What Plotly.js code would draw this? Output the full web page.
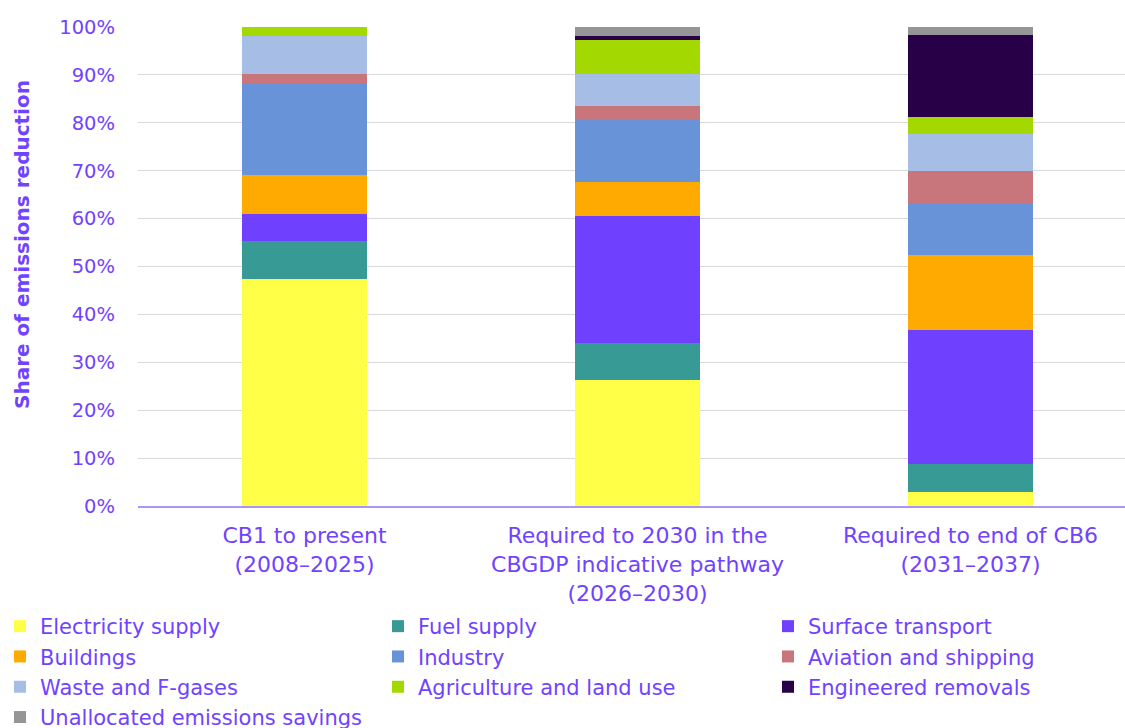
<!DOCTYPE html>
<html>
<head>
<meta charset="utf-8">
<script src="https://cdn.plot.ly/plotly-3.0.1.min.js"></script>
<style>html,body{margin:0;padding:0;background:#fff;}#chart{width:1125px;height:728px;}</style>
</head>
<body>
<div id="chart"></div>
<script>
var categories = ["CB1 to present<br>(2008–2025)", "Required to 2030 in the<br>CBGDP indicative pathway<br>(2026–2030)", "Required to end of CB6<br>(2031–2037)"];
var seriesNames = ["Electricity supply", "Fuel supply", "Surface transport", "Buildings", "Industry", "Aviation and shipping", "Waste and F-gases", "Agriculture and land use", "Engineered removals", "Unallocated emissions savings"];
var electricity = [47.4, 26.3, 3.0];
var fuel = [7.9, 7.7, 5.7];
var surface = [5.7, 26.6, 28.1];
var buildings = [8.0, 7.0, 15.6];
var industry = [19.2, 13.1, 10.9];
var aviation = [2.0, 2.9, 6.7];
var waste = [7.9, 6.5, 7.7];
var agriculture = [1.9, 7.2, 3.5];
var engineered = [0, 0.9, 17.2];
var unallocated = [0, 1.8, 1.6];
var yTickVals = [0, 10, 20, 30, 40, 50, 60, 70, 80, 90, 100];
var yTickText = ["0%", "10%", "20%", "30%", "40%", "50%", "60%", "70%", "80%", "90%", "100%"];
var yTitle = "Share of emissions reduction";
var colors = ["#FFFF47", "#389A94", "#7040FF", "#FFAA00", "#6893D8", "#C8767C", "#A6BEE6", "#A3D900", "#280048", "#969696"];
var values = [electricity, fuel, surface, buildings, industry, aviation, waste, agriculture, engineered, unallocated];
var legendIds = ["legend", "legend2", "legend3"];
var textColor = "#7043FF";
var font = "'DejaVu Sans', sans-serif";

var traces = seriesNames.map(function(name, i){
  return {
    type: "bar",
    name: name,
    x: [0, 1, 2],
    y: values[i],
    legend: legendIds[i % 3],
    marker: {color: colors[i], line: {width: 0}},
    hovertemplate: "%{y:.1f}%<extra>" + name + "</extra>"
  };
});

function legendCfg(xpx) {
  return {
    orientation: "v",
    xref: "container", yref: "container",
    x: xpx / 1125, y: 1 - 606 / 728, xanchor: "left", yanchor: "top",
    traceorder: "normal",
    itemwidth: 30,
    bgcolor: "rgba(0,0,0,0)",
    font: {size: 21, color: textColor, family: font},
    tracegroupgap: 0
  };
}

var layout = {
  width: 1125, height: 728,
  margin: {l: 138, r: 0, t: 27, b: 222, autoexpand: false},
  paper_bgcolor: "#fff", plot_bgcolor: "#fff",
  barmode: "stack",
  bargap: 0.625,
  font: {family: font, color: textColor, size: 19},
  xaxis: {
    range: [-0.5, 2.464],
    tickmode: "array", tickvals: [0, 1, 2], ticktext: categories,
    tickfont: {size: 22, color: textColor},
    showgrid: false, zeroline: false,
    showline: true, linecolor: "#A896F8", linewidth: 2,
    ticks: "", ticklabelstandoff: 9
  },
  yaxis: {
    range: [0, 100],
    tickvals: yTickVals,
    ticktext: yTickText,
    tickfont: {size: 19.5, color: textColor},
    showgrid: true, gridcolor: "#D9D9D9", gridwidth: 1,
    zeroline: false, showline: false,
    ticks: "", ticklabelstandoff: 22
  },
  annotations: [{
    text: "<b>" + yTitle + "</b>",
    xref: "paper", yref: "paper",
    x: (22 - 138) / 987, y: (506 - 245) / 479,
    xanchor: "center", yanchor: "middle",
    textangle: -90, showarrow: false,
    font: {size: 20, color: textColor, family: font}
  }],
  legend: legendCfg(0),
  legend2: legendCfg(378),
  legend3: legendCfg(768),
  showlegend: true
};

Plotly.newPlot("chart", traces, layout, {displayModeBar: false});
</script>
</body>
</html>
